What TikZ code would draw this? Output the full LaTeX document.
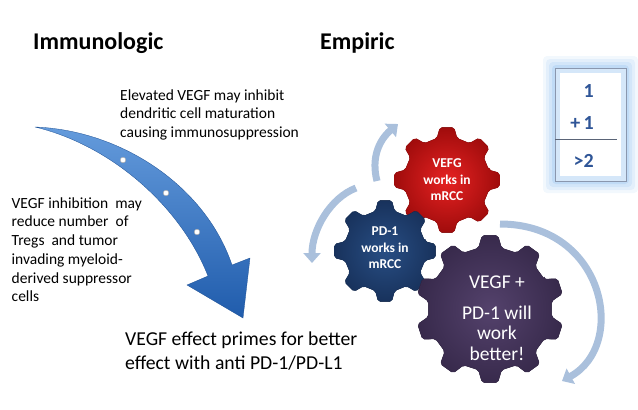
\documentclass[tikz,border=0pt]{standalone}
\usepackage{fontspec}
\setmainfont{Carlito}
\usetikzlibrary{arrows.meta}

\definecolor{arrowblue}{RGB}{32,92,172}
\definecolor{arrowlight}{RGB}{100,155,220}
\definecolor{cyclegrey}{RGB}{170,192,220}
\definecolor{cogred}{RGB}{230,34,34}
\definecolor{cogreddark}{RGB}{160,12,12}
\definecolor{cogblue}{RGB}{40,78,132}
\definecolor{cogbluedark}{RGB}{24,50,92}
\definecolor{cogpurple}{RGB}{84,66,108}
\definecolor{cogpurpledark}{RGB}{56,42,76}
\definecolor{sumblue}{RGB}{47,85,151}
\definecolor{glowblue}{RGB}{150,195,240}

% cogwheel: centre, teeth, inner radius, outer radius, rotation, style
\newcommand{\cog}[6]{%
  \begin{scope}[shift={#1},rotate=#5]
    \pgfmathsetmacro\cogstep{360/#2}
    \filldraw[#6] ({-0.3*\cogstep}:#3)
      \foreach \k in {1,...,#2}{
        -- ({(\k-1-0.17)*\cogstep}:#4) -- ({(\k-1+0.17)*\cogstep}:#4)
        -- ({(\k-1+0.3)*\cogstep}:#3) -- ({(\k-0.3)*\cogstep}:#3)} -- cycle;
  \end{scope}}

\begin{document}
\begin{tikzpicture}[x=1pt,y=-1pt,
  heading/.style={font=\fontsize{24}{28}\selectfont\bfseries,anchor=base west,inner sep=0},
  note/.style={font=\fontsize{15.5}{18.5}\selectfont,align=left,anchor=base west,inner sep=0},
  cogtext/.style={font=\fontsize{13.5}{16.5}\selectfont\bfseries,text=white,align=center,inner sep=0},
  cyclearrow/.style={cyclegrey,line width=7pt,-{Triangle[width=17pt,length=10pt]}},
  sumdigit/.style={font=\fontsize{20}{24}\selectfont\bfseries,text=sumblue,anchor=base east,inner sep=0}]
  \useasboundingbox (0,0) rectangle (638,410);

  % headings
  \node[heading] (immuno) at (33,49) {Immunologic};
  \node[heading] (empiric) at (320,49) {Empiric};

  % notes (anchored at the last line)
  \node[note] (elevated) at (120,137.3) {Elevated VEGF may inhibit\\dendritic cell maturation\\causing immunosuppression};
  \node[note,font=\fontsize{15.5}{18.7}\selectfont] (inhibition) at (11.5,301.7)
    {VEGF inhibition\ \ may\\reduce number\ \ of\\Tregs\ \ and tumor\\invading myeloid-\\derived suppressor\\cells};
  \node[note,font=\fontsize{19.7}{23.3}\selectfont] (primes) at (125,369)
    {VEGF effect primes for better\\effect with anti PD-1/PD-L1};

  % big curved arrow
  \shade[top color=arrowlight,bottom color=arrowblue,draw=arrowblue!85!black,line width=0.3pt]
    (35,127) .. controls (120,130) and (205,185) .. (232,265) -- (250,258) -- (243,318)
    -- (187,285) -- (208,276) .. controls (180,205) and (110,145) .. (35,127) -- cycle;
  \foreach \p in {(123,160),(166,193),(197,232)}
    \filldraw[fill=white,draw=gray!70,line width=0.4pt] \p circle (2.8);

  % cogwheels
  \cog{(447,180)}{8}{43}{53}{0}{inner color=cogred,outer color=cogreddark,draw=cogreddark,rounded corners=2pt}
  \cog{(385,251)}{8}{41}{51}{0}{inner color=cogblue,outer color=cogbluedark,draw=cogbluedark,rounded corners=2pt}
  \cog{(490,309)}{10}{62}{74}{18}{inner color=cogpurple,outer color=cogpurpledark,draw=cogpurpledark,rounded corners=2pt}
  \node[cogtext] (vefg) at (447,180) {VEFG\\works in\\mRCC};
  \node[cogtext] (pdone) at (385,248) {PD-1\\works in\\mRCC};
  \node[cogtext,font=\fontsize{19.5}{20.5}\selectfont] (together) at (497,318)
    {VEGF +\\[10pt]PD-1 will\\work\\better!};

  % turning arrows
  \draw[cyclearrow] (377,181) .. controls (371,158) and (379,140) .. (398,124);
  \draw[cyclearrow] (356,188) .. controls (330,198) and (312,230) .. (312,263);
  \draw[cyclearrow] (500,224) .. controls (605,224) and (628,345) .. (562,381);

  % sum box
  \foreach \g/\o in {12/0.12,9/0.16,6/0.22,3/0.3}
    \fill[glowblue,opacity=\o,rounded corners=4pt] (555-\g,68-\g) rectangle (626+\g,181+\g);
  \fill[white] (555,68) rectangle (626,181);
  \draw[glowblue,line width=5pt,opacity=0.4] (557.5,70.5) rectangle (623.5,178.5);
  \draw[sumblue!50!gray!70,line width=0.6pt] (555,68) rectangle (626,181);
  \node[sumdigit] (one) at (594,97.7) {1};
  \node[sumdigit] (plusone) at (594,129.3) {+\,1};
  \draw[sumblue!40!black!70,line width=0.6pt] (555,139.3) -- (617,139.3);
  \node[sumdigit] (more) at (594,167) {>2};
\end{tikzpicture}
\end{document}
